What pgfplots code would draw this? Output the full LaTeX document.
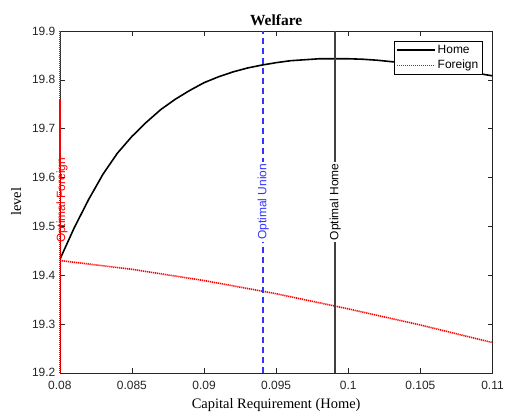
\documentclass[border=0pt]{standalone}
\usepackage{pgfplots}
\pgfplotsset{compat=1.18}
\usepackage{fontspec}
\setmainfont{Liberation Serif}
\newfontfamily\arial{Liberation Sans}
\definecolor{axgray}{gray}{0.15}
\definecolor{mblue}{rgb}{0.2,0.2,1}
\begin{document}
\begin{tikzpicture}
\begin{axis}[
  scale only axis,
  width=434bp, height=343bp,
  xmin=0.08, xmax=0.11, ymin=19.2, ymax=19.9,
  clip mode=individual,
  xtick={0.08,0.085,0.09,0.095,0.1,0.105,0.11},
  xticklabels={0.08,0.085,0.09,0.095,0.1,0.105,0.11},
  ytick={19.2,19.3,19.4,19.5,19.6,19.7,19.8,19.9},
  yticklabels={19.2,19.3,19.4,19.5,19.6,19.7,19.8,19.9},
  /pgf/number format/assume math mode=true,
  ticklabel style={font=\arial\fontsize{12bp}{14bp}\selectfont, text=axgray},
  xticklabel style={yshift=-5bp},
  yticklabel style={xshift=-1bp},
  tick style={axgray, line width=0.5bp},
  tick align=inside,
  major tick length=5bp,
  axis line style={axgray, line width=0.6bp},
  title={\textbf{Welfare}},
  title style={font=\fontsize{15.5bp}{17bp}\selectfont, yshift=-4bp},
  xlabel={Capital Requirement (Home)},
  ylabel={level},
  xlabel style={font=\fontsize{14.5bp}{16bp}\selectfont, yshift=-2bp},
  ylabel style={font=\fontsize{14.5bp}{16bp}\selectfont, yshift=4bp},
  legend style={at={(1,1)}, anchor=north east, xshift=-10bp, yshift=-10bp,
    font=\arial\fontsize{12bp}{14bp}\selectfont, draw=black, line width=0.5bp,
    inner sep=2bp, row sep=1.5bp},
  legend cell align=left,
]
\addlegendimage{legend image code/.code={\draw[draw=black, line width=1.6bp] (0bp,0bp) -- (38bp,0bp);}}
\addlegendentry{Home}
\addlegendimage{legend image code/.code={\draw[draw=red, line width=1.6bp, dash pattern=on 1.2bp off 0.8bp] (0bp,0bp) -- (38bp,0bp);}}
\addlegendentry{Foreign}
\addplot[draw=black, line width=1.6bp, forget plot] coordinates {
(0.080,19.432) (0.081,19.497) (0.082,19.555) (0.083,19.607) (0.084,19.650)
(0.085,19.684) (0.086,19.713) (0.087,19.739) (0.088,19.760) (0.089,19.778)
(0.090,19.794) (0.091,19.806) (0.092,19.816) (0.093,19.824) (0.094,19.830)
(0.095,19.835) (0.096,19.839) (0.097,19.841) (0.098,19.843) (0.099,19.843)
(0.100,19.843) (0.101,19.842) (0.102,19.840) (0.103,19.837) (0.104,19.834)
(0.105,19.830) (0.106,19.826) (0.107,19.822) (0.108,19.818) (0.109,19.813)
(0.110,19.808)};
\addplot[draw=red, line width=1.6bp, dash pattern=on 1.2bp off 0.8bp, forget plot] coordinates {
(0.080,19.430) (0.085,19.412) (0.090,19.389) (0.095,19.362) (0.100,19.331)
(0.105,19.298) (0.110,19.262)};
% vertical lines
\addplot[draw=red, line width=1.5bp, dash pattern=on 1.2bp off 0.8bp, forget plot, clip=false] coordinates {(0.08,19.2) (0.08,19.9)};
\addplot[draw=mblue, line width=1.5bp, dash pattern=on 6bp off 4bp, forget plot] coordinates {(0.0941,19.2) (0.0941,19.9)};
\addplot[draw=black!75, line width=2.2bp, forget plot] coordinates {(0.0991,19.2) (0.0991,19.9)};
\node[rotate=90, inner sep=0bp, text=red, font=\arial\fontsize{12bp}{14bp}\selectfont] at (axis cs:0.08015,19.553) {Optimal Foreign};
\node[rotate=90, fill=white, inner sep=2bp, text=mblue, font=\arial\fontsize{12bp}{14bp}\selectfont] at (axis cs:0.0941,19.55) {Optimal Union};
\node[rotate=90, fill=white, inner sep=2bp, text=black, font=\arial\fontsize{12bp}{14bp}\selectfont] at (axis cs:0.0991,19.55) {Optimal Home};
\end{axis}
\useasboundingbox (current axis.south west) ++(-60bp,-40bp) rectangle ([shift={(13bp,31bp)}]current axis.north east);
\end{tikzpicture}
\end{document}
